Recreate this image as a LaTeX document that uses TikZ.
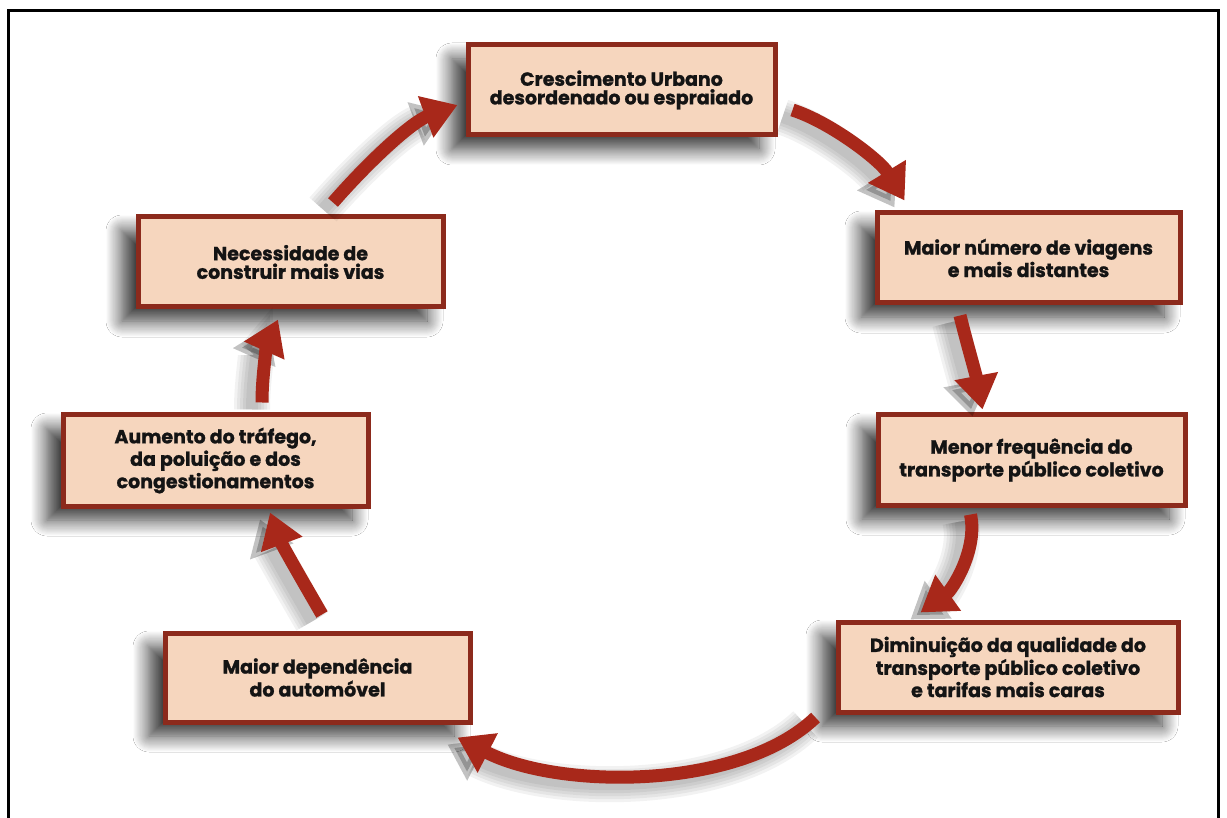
\documentclass[tikz,border=0pt]{standalone}
\usepackage{fontspec}
\setmainfont{Poppins}[BoldFeatures={FakeBold=1.2}]
\usetikzlibrary{arrows.meta,shadows.blur}

\definecolor{boxfill}{HTML}{F6D6BE}
\definecolor{boxedge}{HTML}{8C2A1C}
\definecolor{arrowred}{HTML}{A8281A}
\definecolor{inktext}{HTML}{141414}

\tikzset{
  stage/.style={draw=boxedge, line width=2.5pt, fill=boxfill, align=center,
    text=inktext, inner sep=0pt,
    font=\bfseries\fontsize{9.5}{9.3}\selectfont,
    blur shadow={shadow xshift=-8pt, shadow yshift=-7pt,
      shadow blur radius=8pt, shadow blur steps=16, shadow opacity=80}},
  flow/.style={draw=arrowred, line width=6.5pt,
    -{Triangle[width=21pt,length=17pt]}},
  flowshade/.style={draw=black, opacity=0.05, line width=#1,
    -{Triangle[width=22pt,length=17pt]}},
  frame/.style={line width=1.5pt, draw=black}
}

% cycle arrow: start, control 1, control 2, end, with a soft offset shadow
\newcommand\cyclearrow[4]{%
  \foreach \lw in {6pt,9pt,12pt,15pt,18pt}{%
    \draw[flowshade=\lw] ([shift={(-10,7)}]#1) .. controls ([shift={(-10,7)}]#2)
      and ([shift={(-10,7)}]#3) .. ([shift={(-10,7)}]#4);
  }
  \draw[flow] (#1) .. controls (#2) and (#3) .. (#4);
}

\begin{document}
\begin{tikzpicture}[x=0.5pt, y=-0.5pt]
\useasboundingbox (0,0) rectangle (1227,818);
\fill[white] (0,0) rectangle (1227,818);

% outer frame (open at the bottom edge of the page)
\draw[frame] (8.5,840) -- (8.5,11) -- (1218.5,11) -- (1218.5,840);

% stages of the cycle
\node[stage, minimum width=153.5pt, minimum height=45pt] (n1) at (621.5,90)
  {Crescimento Urbano\\desordenado ou espraiado};
\node[stage, minimum width=151.5pt, minimum height=45pt] (n2) at (1028.5,258)
  {Maior número de viagens\\e mais distantes};
\node[stage, minimum width=153.5pt, minimum height=45pt] (n3) at (1031.5,460)
  {Menor frequência do\\transporte público coletivo};
\node[stage, minimum width=170pt, minimum height=45pt] (n4) at (1008,667)
  {Diminuição da qualidade do\\transporte público coletivo\\e tarifas mais caras};
\node[stage, minimum width=152.5pt, minimum height=44.5pt] (n5) at (317.5,677.5)
  {Maior dependência\\do automóvel};
\node[stage, minimum width=152.5pt, minimum height=45.5pt] (n6) at (215.5,460.5)
  {Aumento do tráfego,\\da poluição e dos\\congestionamentos};
\node[stage, minimum width=152.5pt, minimum height=45pt] (n7) at (290.5,262)
  {Necessidade de\\construir mais vias};

% arrow end points, placed from the stage boxes
\coordinate (a1s) at ([shift={(15,20)}]n1.east);
\coordinate (a1e) at ([shift={(30,-10)}]n2.north west);
\coordinate (a2s) at ([shift={(-68.5,10)}]n2.south);
\coordinate (a2e) at ([shift={(-49,-3)}]n3.north);
\coordinate (a3s) at ([shift={(-61,7)}]n3.south);
\coordinate (a3e) at ([shift={(85,-7)}]n4.north west);
\coordinate (a4s) at ([shift={(-20,3)}]n4.south west);
\coordinate (a4e) at ([shift={(-15,13)}]n5.south east);
\coordinate (a5s) at ([shift={(4.5,-16)}]n5.north);
\coordinate (a5e) at ([shift={(54.5,4)}]n6.south);
\coordinate (a6s) at ([shift={(46.5,-10)}]n6.north);
\coordinate (a6e) at ([shift={(-12.5,10)}]n7.south);
\coordinate (a7s) at ([shift={(42.5,-12)}]n7.north);
\coordinate (a7e) at ([shift={(-8,15)}]n1.west);

% connectors of the cycle
\cyclearrow{a1s}{830,122}{880,160}{a1e}
\cyclearrow{a2s}{966,340}{976,375}{a2e}
\cyclearrow{a3s}{978,550}{952,590}{a3e}
\cyclearrow{a4s}{740,790}{560,790}{a4e}
\cyclearrow{a5s}{302,580}{282,545}{a5e}
\cyclearrow{a6s}{262,372}{268,342}{a6e}
\cyclearrow{a7s}{370,160}{412,122}{a7e}
\end{tikzpicture}
\end{document}
